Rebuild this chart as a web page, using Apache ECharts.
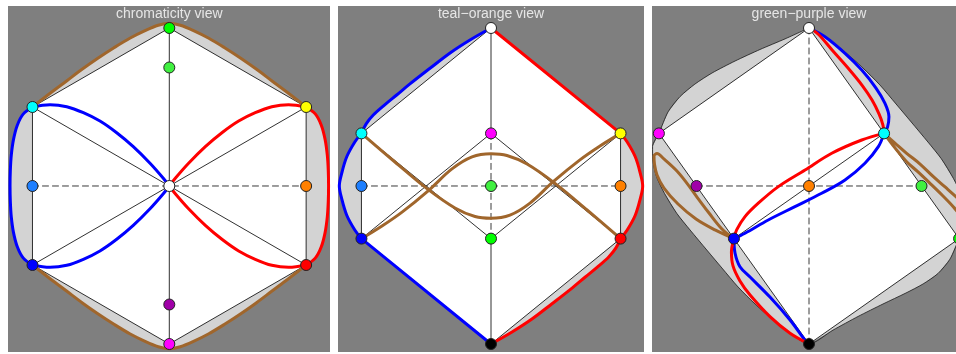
<!DOCTYPE html>
<html>
<head>
<meta charset="utf-8">
<script src="https://cdn.jsdelivr.net/npm/echarts@6/dist/echarts.min.js"></script>
<style>
  html, body { margin: 0; padding: 0; background: #ffffff; }
  #chart { width: 956px; height: 354px; }
</style>
</head>
<body>
<div id="chart"></div>
<script>
// Projected RGB-cube coordinates; one unit = distance from the centre to the pole.

// ---------- chromaticity view ----------
const chromaNames  = ['green', 'yellow', 'red', 'magenta', 'blue', 'cyan', 'white', 'lightGreen', 'purple', 'azure', 'orange'];
const chromaPoints = [[0, 1], [0.866, 0.5], [0.866, -0.5], [0, -1], [-0.866, -0.5], [-0.866, 0.5], [0, 0], [0, 0.75], [0, -0.75], [-0.866, 0], [0.866, 0]];
const chromaFace   = ['green', 'yellow', 'red', 'magenta', 'blue', 'cyan'];
const chromaEdges  = [['green', 'yellow'], ['yellow', 'red'], ['red', 'magenta'], ['magenta', 'blue'], ['blue', 'cyan'], ['cyan', 'green'],
                      ['white', 'green'], ['white', 'yellow'], ['white', 'red'], ['white', 'magenta'], ['white', 'blue'], ['white', 'cyan']];
const chromaDashed = [['azure', 'orange']];
const chromaBrownTop = [[-0.866, 0.5], [-0.75, 0.59], [-0.65, 0.665], [-0.55, 0.74], [-0.45, 0.81], [-0.35, 0.875], [-0.25, 0.935], [-0.15, 0.985], [-0.07, 1.017], [0, 1.03],
                        [0.07, 1.017], [0.15, 0.985], [0.25, 0.935], [0.35, 0.875], [0.45, 0.81], [0.55, 0.74], [0.65, 0.665], [0.75, 0.59], [0.866, 0.5]];
const chromaBrownBottom = [[-0.866, -0.5], [-0.75, -0.59], [-0.65, -0.665], [-0.55, -0.74], [-0.45, -0.81], [-0.35, -0.875], [-0.25, -0.935], [-0.15, -0.985], [-0.07, -1.017], [0, -1.03],
                           [0.07, -1.017], [0.15, -0.985], [0.25, -0.935], [0.35, -0.875], [0.45, -0.81], [0.55, -0.74], [0.65, -0.665], [0.75, -0.59], [0.866, -0.5]];
const chromaBlueOuter = [[-0.866, 0.5], [-0.925, 0.455], [-0.962, 0.385], [-0.986, 0.295], [-1.0, 0.195], [-1.006, 0.1], [-1.008, 0],
                         [-1.006, -0.1], [-1.0, -0.195], [-0.986, -0.295], [-0.962, -0.385], [-0.925, -0.455], [-0.866, -0.5]];
const chromaRedOuter  = [[0.866, 0.5], [0.925, 0.455], [0.962, 0.385], [0.986, 0.295], [1.0, 0.195], [1.006, 0.1], [1.008, 0],
                         [1.006, -0.1], [1.0, -0.195], [0.986, -0.295], [0.962, -0.385], [0.925, -0.455], [0.866, -0.5]];
const chromaBlueUpper = [[-0.866, 0.5], [-0.755, 0.515], [-0.649, 0.502], [-0.544, 0.464], [-0.439, 0.411], [-0.333, 0.337], [-0.228, 0.249], [-0.122, 0.144], [-0.038, 0.049], [0, 0]];
const chromaBlueLower = [[0, 0], [-0.038, -0.049], [-0.122, -0.144], [-0.228, -0.249], [-0.333, -0.337], [-0.439, -0.411], [-0.544, -0.464], [-0.649, -0.502], [-0.755, -0.515], [-0.866, -0.5]];
const chromaRedUpper  = [[0.866, 0.5], [0.755, 0.515], [0.649, 0.502], [0.544, 0.464], [0.439, 0.411], [0.333, 0.337], [0.228, 0.249], [0.122, 0.144], [0.038, 0.049], [0, 0]];
const chromaRedLower  = [[0, 0], [0.038, -0.049], [0.122, -0.144], [0.228, -0.249], [0.333, -0.337], [0.439, -0.411], [0.544, -0.464], [0.649, -0.502], [0.755, -0.515], [0.866, -0.5]];

// ---------- teal-orange view ----------
const toNames  = ['white', 'cyan', 'magenta', 'yellow', 'azure', 'lightGreen', 'orange', 'blue', 'green', 'red', 'black'];
const toPoints = [[0, 1], [-0.82, 0.333], [0, 0.333], [0.82, 0.333], [-0.82, 0], [0, 0], [0.82, 0], [-0.82, -0.333], [0, -0.333], [0.82, -0.333], [0, -1]];
const toFace   = ['white', 'yellow', 'red', 'black', 'blue', 'cyan'];
const toEdges  = [['white', 'cyan'], ['white', 'yellow'], ['white', 'magenta'], ['cyan', 'blue'], ['yellow', 'red'], ['cyan', 'green'],
                  ['yellow', 'green'], ['magenta', 'blue'], ['magenta', 'red'], ['blue', 'black'], ['red', 'black'], ['green', 'black']];
const toDashed = [['azure', 'orange'], ['magenta', 'green']];
const toBlueUpper = [[0, 1], [-0.133, 0.924], [-0.259, 0.842], [-0.386, 0.745], [-0.513, 0.646], [-0.597, 0.576], [-0.671, 0.515], [-0.745, 0.449], [-0.791, 0.392], [-0.82, 0.333]];
const toBlueLeft  = [[-0.82, 0.333], [-0.861, 0.28], [-0.913, 0.185], [-0.945, 0.08], [-0.96, 0], [-0.945, -0.08], [-0.913, -0.185], [-0.861, -0.28], [-0.82, -0.333]];
const toBlueLower = [[-0.82, -0.333], [0, -1]];
const toRedUpper  = [[0, 1], [0.82, 0.333]];
const toRedRight  = [[0.82, 0.333], [0.861, 0.28], [0.913, 0.185], [0.945, 0.08], [0.96, 0], [0.945, -0.08], [0.913, -0.185], [0.861, -0.28], [0.82, -0.333]];
const toRedLower  = [[0.82, -0.333], [0.791, -0.392], [0.745, -0.449], [0.671, -0.515], [0.597, -0.576], [0.513, -0.646], [0.386, -0.745], [0.259, -0.842], [0.133, -0.924], [0, -1]];
const toBrownA = [[-0.82, 0.333], [-0.608, 0.152], [-0.407, -0.015], [-0.228, -0.139], [-0.101, -0.193], [0, -0.204], [0.12, -0.184], [0.247, -0.108], [0.394, 0.027], [0.563, 0.165], [0.69, 0.253], [0.82, 0.333]];
const toBrownB = [[-0.82, -0.333], [-0.69, -0.253], [-0.563, -0.165], [-0.394, -0.027], [-0.247, 0.108], [-0.12, 0.184], [0, 0.204], [0.101, 0.193], [0.228, 0.139], [0.407, 0.015], [0.608, -0.152], [0.82, -0.333]];

// ---------- green-purple view ----------
const gpNames  = ['white', 'magenta', 'cyan', 'purple', 'orange', 'lightGreen', 'blue', 'green', 'black'];
const gpPoints = [[0, 1], [-0.95, 0.333], [0.475, 0.333], [-0.712, 0], [0, 0], [0.712, 0], [-0.475, -0.333], [0.95, -0.333], [0, -1]];
const gpFace   = ['white', 'green', 'black', 'magenta'];
const gpEdges  = [['white', 'magenta'], ['white', 'green'], ['magenta', 'black'], ['green', 'black'], ['cyan', 'blue']];
const gpDashed = [['purple', 'lightGreen'], ['white', 'black']];
const gpHullUpperLeft  = [[0, 1], [-0.152, 0.931], [-0.31, 0.864], [-0.468, 0.791], [-0.614, 0.715], [-0.722, 0.645], [-0.816, 0.566], [-0.892, 0.469], [-0.95, 0.333]];
const gpHullLeft       = [[-0.95, 0.333], [-0.99, 0.25], [-0.988, 0.165], [-0.965, 0.059], [-0.915, -0.046], [-0.837, -0.173], [-0.753, -0.278], [-0.647, -0.405], [-0.551, -0.519], [-0.449, -0.639], [-0.335, -0.753], [-0.234, -0.842], [-0.12, -0.932], [0, -1]];
const gpHullLowerRight = [[0, -1], [0.152, -0.912], [0.31, -0.826], [0.468, -0.747], [0.614, -0.677], [0.722, -0.62], [0.816, -0.554], [0.892, -0.463], [0.95, -0.333]];
const gpHullRight      = [[0.95, -0.333], [0.99, -0.25], [0.988, -0.165], [0.965, -0.059], [0.915, 0.046], [0.837, 0.173], [0.753, 0.278], [0.647, 0.405], [0.551, 0.519], [0.449, 0.639], [0.335, 0.753], [0.234, 0.842], [0.12, 0.932], [0, 1]];
const gpBlueUpper = [[0, 1], [0.101, 0.945], [0.228, 0.84], [0.334, 0.734], [0.424, 0.62], [0.481, 0.523], [0.506, 0.439], [0.497, 0.373], [0.475, 0.333]];
const gpBlueMid   = [[0.475, 0.333], [0.439, 0.249], [0.354, 0.144], [0.228, 0.038], [0.08, -0.046], [-0.089, -0.131], [-0.258, -0.215], [-0.405, -0.299], [-0.475, -0.333]];
const gpBlueLower = [[-0.475, -0.333], [-0.468, -0.426], [-0.437, -0.511], [-0.373, -0.576], [-0.247, -0.703], [-0.12, -0.848], [-0.025, -0.975], [0, -1]];
const gpRedUpper  = [[0, 1], [0.057, 0.962], [0.146, 0.861], [0.247, 0.747], [0.335, 0.639], [0.399, 0.544], [0.443, 0.456], [0.468, 0.386], [0.475, 0.333]];
const gpRedMid    = [[0.475, 0.333], [0.334, 0.291], [0.144, 0.207], [-0.025, 0.101], [-0.194, -0.004], [-0.321, -0.109], [-0.405, -0.194], [-0.458, -0.278], [-0.475, -0.333]];
const gpRedLower  = [[-0.475, -0.333], [-0.491, -0.418], [-0.481, -0.506], [-0.437, -0.601], [-0.373, -0.69], [-0.247, -0.827], [-0.12, -0.932], [0, -1]];
const gpBrownLeft = [[-0.475, -0.333], [-0.551, -0.272], [-0.633, -0.171], [-0.709, -0.07], [-0.778, 0.025], [-0.842, 0.101], [-0.918, 0.171], [-0.962, 0.205],
                     [-0.981, 0.19], [-0.978, 0.139], [-0.962, 0.07], [-0.918, -0.013], [-0.829, -0.114], [-0.715, -0.209], [-0.595, -0.278], [-0.475, -0.333]];
const gpBrownRight = [[0.475, 0.333], [0.544, 0.272], [0.618, 0.207], [0.703, 0.139], [0.787, 0.059], [0.861, -0.006], [0.93, -0.068], [0.994, -0.133], [1.03, -0.19],
                      [1.01, -0.23], [0.968, -0.196], [0.913, -0.131], [0.842, -0.057], [0.766, 0.017], [0.69, 0.089], [0.618, 0.154], [0.544, 0.241], [0.475, 0.333]];

const panelTitles = ['chromaticity view', 'teal\u2212orange view', 'green\u2212purple view'];

// ---------- styling ----------
const palette = {
  white: '#ffffff', black: '#000000', red: '#ff0000', green: '#00ff00', blue: '#0000ff',
  cyan: '#00ffff', magenta: '#ff00ff', yellow: '#ffff00', orange: '#ff8000', azure: '#1e7fff',
  purple: '#a000a8', lightGreen: '#40f040'
};
const BG = '#7f7f7f', HULL = '#d3d3d3', EDGE = '#1a1a1a', DASH = '#3a3a3a';
const BLUE = '#0000ff', RED = '#ff0000', BROWN = '#a0662c';

// panel windows (pixel boxes and axis extents)
const panels = [
  { left: 8,   width: 322, x: [-1.0209, 1.0171] },
  { left: 338, width: 306, x: [-0.9684, 0.9684] },
  { left: 652, width: 304, x: [-0.9937, 0.9304] }
];
const yRange = [-1.0506, 1.1392];

const chart = echarts.init(document.getElementById('chart'), null, { renderer: 'canvas' });

const grid = [], xAxis = [], yAxis = [], title = [];
panels.forEach((p, i) => {
  grid.push({ left: p.left, top: 6, width: p.width, height: 346, show: true, backgroundColor: BG, borderWidth: 0 });
  xAxis.push({ type: 'value', gridIndex: i, min: p.x[0], max: p.x[1], show: false });
  yAxis.push({ type: 'value', gridIndex: i, min: yRange[0], max: yRange[1], show: false });
});

const series = [];
function lookup(names, points, n) { return points[names.indexOf(n)]; }

function fill(panel, path, color, z) {
  series.push({
    type: 'custom', xAxisIndex: panel, yAxisIndex: panel, data: [[0, 0]], silent: true, z: z, clip: true,
    renderItem: (params, api) => ({
      type: 'polygon',
      shape: { points: path.map(q => api.coord(q)) },
      style: { fill: color, stroke: null }
    })
  });
}
function line(panel, path, color, width, z, opts) {
  opts = opts || {};
  series.push({
    type: 'line', xAxisIndex: panel, yAxisIndex: panel, data: path, symbol: 'none', silent: true,
    smooth: opts.smooth || 0, z: z, clip: true,
    lineStyle: { color: color, width: width, type: opts.dash || 'solid', cap: 'round', join: 'round' }
  });
}
function dots(panel, names, points, z) {
  series.push({
    type: 'scatter', xAxisIndex: panel, yAxisIndex: panel, silent: true, z: z, clip: false,
    symbol: 'circle', symbolSize: 11,
    itemStyle: { borderColor: '#222222', borderWidth: 1, opacity: 1 },
    data: names.map((n, i) => ({ value: points[i], itemStyle: { color: palette[n] } }))
  });
}
function segments(panel, names, points, pairs, color, width, z, dash) {
  pairs.forEach(pr => line(panel, [lookup(names, points, pr[0]), lookup(names, points, pr[1])], color, width, z, { dash: dash }));
}
const rev = a => a.slice().reverse();
const SM = 0.35;

// panel 1: chromaticity view
fill(0, [...chromaBrownTop, ...chromaRedOuter, ...rev(chromaBrownBottom), ...rev(chromaBlueOuter)], HULL, 1);
fill(0, chromaFace.map(n => lookup(chromaNames, chromaPoints, n)), '#ffffff', 1);
segments(0, chromaNames, chromaPoints, chromaEdges, EDGE, 0.9, 2);
segments(0, chromaNames, chromaPoints, chromaDashed, DASH, 1, 2, [6, 4]);
[chromaBlueOuter, chromaBlueUpper, chromaBlueLower].forEach(c => line(0, c, BLUE, 3, 3, { smooth: SM }));
[chromaRedOuter, chromaRedUpper, chromaRedLower].forEach(c => line(0, c, RED, 3, 3, { smooth: SM }));
[chromaBrownTop, chromaBrownBottom].forEach(c => line(0, c, BROWN, 3, 3, { smooth: SM }));
dots(0, chromaNames, chromaPoints, 5);

// panel 2: teal-orange view
fill(1, [...toBlueUpper, ...toBlueLeft, ...toBlueLower, ...rev(toRedLower), ...rev(toRedRight), ...rev(toRedUpper)], HULL, 1);
fill(1, toFace.map(n => lookup(toNames, toPoints, n)), '#ffffff', 1);
segments(1, toNames, toPoints, toEdges, EDGE, 0.9, 2);
segments(1, toNames, toPoints, toDashed, DASH, 1, 2, [6, 4]);
[toBrownA, toBrownB].forEach(c => line(1, c, BROWN, 3, 3, { smooth: SM }));
[toBlueUpper, toBlueLeft, toBlueLower].forEach(c => line(1, c, BLUE, 3, 3, { smooth: SM }));
[toRedUpper, toRedRight, toRedLower].forEach(c => line(1, c, RED, 3, 3, { smooth: SM }));
dots(1, toNames, toPoints, 5);

// panel 3: green-purple view
const gpHull = [...gpHullUpperLeft, ...gpHullLeft, ...gpHullLowerRight, ...gpHullRight];
fill(2, gpHull, HULL, 1);
fill(2, gpFace.map(n => lookup(gpNames, gpPoints, n)), '#ffffff', 1);
line(2, gpHull, EDGE, 0.8, 2, { smooth: 0.25 });
segments(2, gpNames, gpPoints, gpEdges, EDGE, 0.9, 2);
segments(2, gpNames, gpPoints, gpDashed, DASH, 1, 2, [6, 4]);
[gpBrownLeft, gpBrownRight].forEach(c => line(2, c, BROWN, 3, 3, { smooth: SM }));
[gpBlueUpper, gpBlueMid, gpBlueLower].forEach(c => line(2, c, BLUE, 3, 3, { smooth: SM }));
[gpRedUpper, gpRedMid, gpRedLower].forEach(c => line(2, c, RED, 3, 3, { smooth: SM }));
dots(2, gpNames, gpPoints, 5);

const centres = [169.3, 491, 809];
panelTitles.forEach((t, i) => title.push({
  text: t, left: centres[i], top: 7, padding: 0, textAlign: 'center', textVerticalAlign: 'top',
  textStyle: { color: '#e6e6e6', fontSize: 14, fontWeight: 'normal', fontFamily: 'Liberation Sans, Arial, sans-serif' }
}));

chart.setOption({
  animation: false,
  backgroundColor: '#ffffff',
  title: title,
  grid: grid,
  xAxis: xAxis,
  yAxis: yAxis,
  series: series
});
</script>
</body>
</html>
